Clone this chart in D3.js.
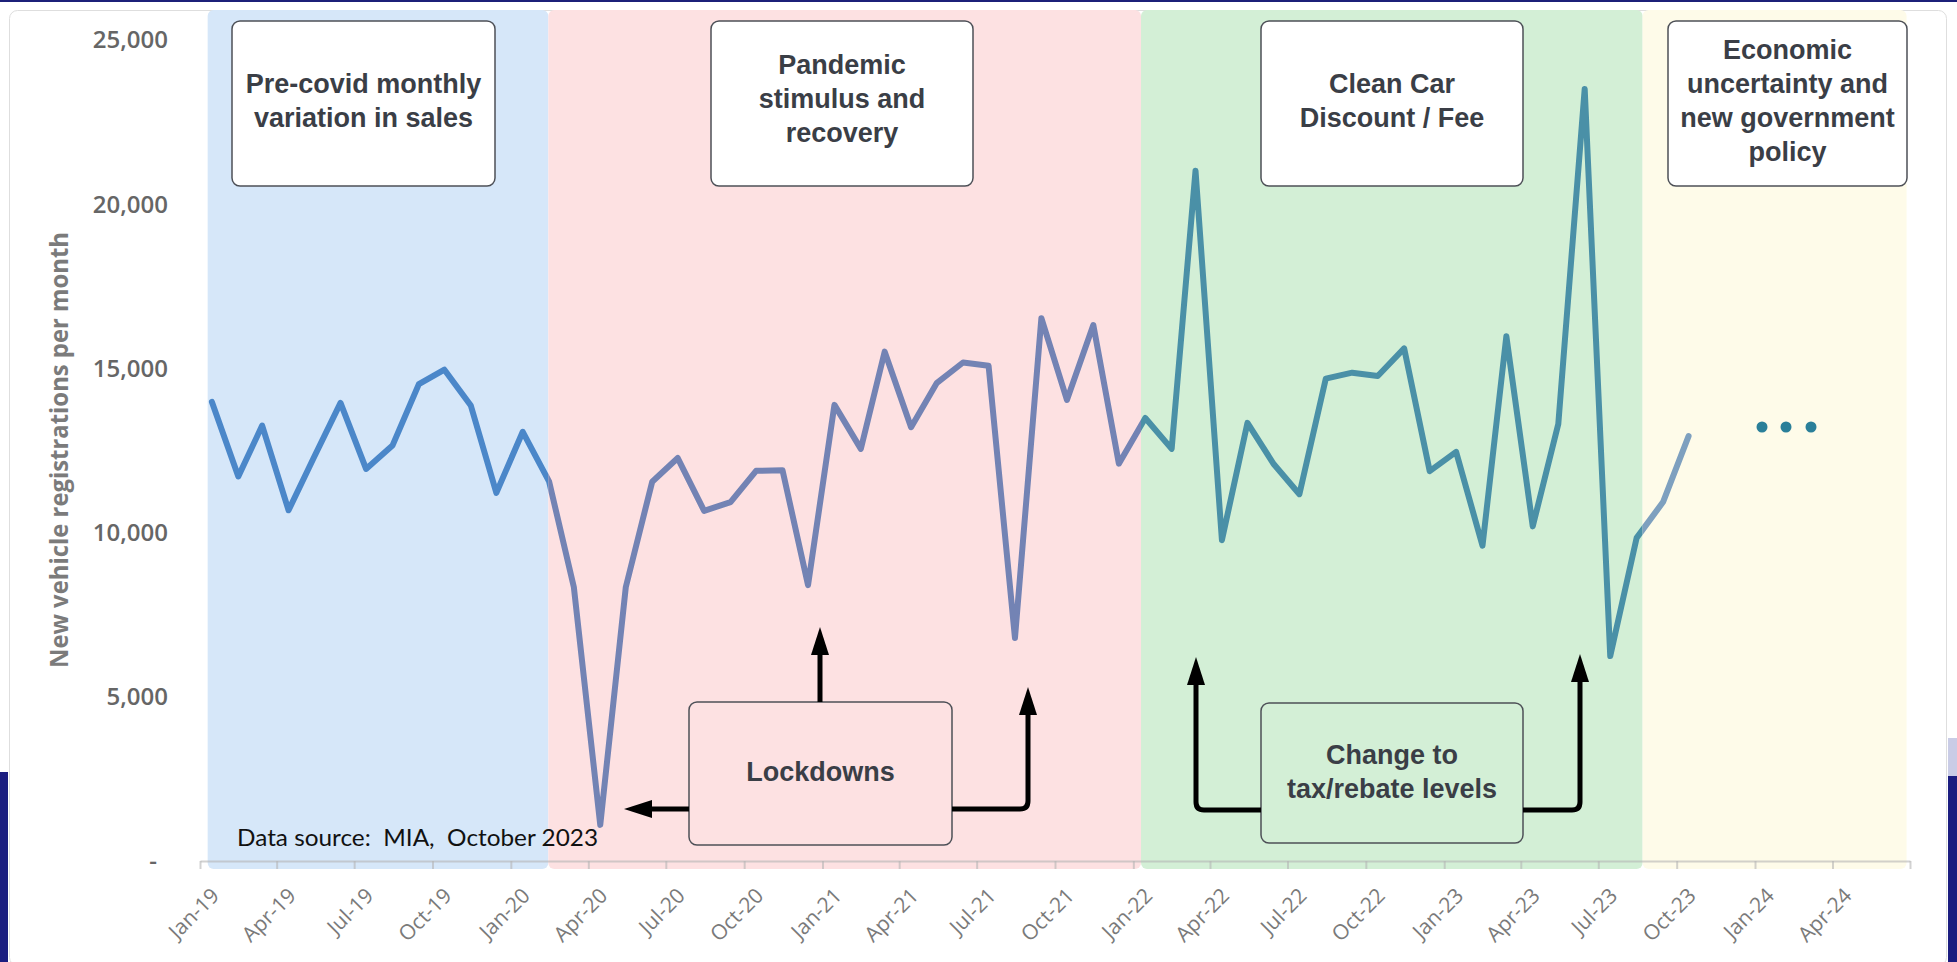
<!DOCTYPE html>
<meta charset="utf-8">
<style>

body {
  margin: 0;
  background: #fff;
}

text {
  font-family: "Liberation Sans", Arial, sans-serif;
}

.tick text {
  font-family: "Open Sans", sans-serif;
}

</style>
<body>
  <div class="chart"></div>
</body>

<script src="https://cdn.jsdelivr.net/npm/d3@7"></script>
<script>

// monthly new vehicle registrations (MIA)
var months = [
  "Jan-19", "Feb-19", "Mar-19", "Apr-19", "May-19", "Jun-19", "Jul-19", "Aug-19", "Sep-19", "Oct-19", "Nov-19", "Dec-19",
  "Jan-20", "Feb-20", "Mar-20", "Apr-20", "May-20", "Jun-20", "Jul-20", "Aug-20", "Sep-20", "Oct-20", "Nov-20", "Dec-20",
  "Jan-21", "Feb-21", "Mar-21", "Apr-21", "May-21", "Jun-21", "Jul-21", "Aug-21", "Sep-21", "Oct-21", "Nov-21", "Dec-21",
  "Jan-22", "Feb-22", "Mar-22", "Apr-22", "May-22", "Jun-22", "Jul-22", "Aug-22", "Sep-22", "Oct-22", "Nov-22", "Dec-22",
  "Jan-23", "Feb-23", "Mar-23", "Apr-23", "May-23", "Jun-23", "Jul-23", "Aug-23", "Sep-23", "Oct-23"
];

var registrations = [
  13980, 11710, 13260, 10680, 12300, 13950, 11940, 12650, 14520, 14960, 13870, 11210,
  13070, 11550, 8340, 1100, 8340, 11550, 12270, 10660, 10930, 11880, 11900, 8400,
  13890, 12550, 15510, 13210, 14550, 15180, 15080, 6790, 16530, 14040, 16320, 12100,
  13490, 12550, 21020, 9770, 13340, 12080, 11170, 14690, 14870, 14770, 15610, 11870,
  12460, 9600, 15980, 10190, 13310, 23510, 6240, 9840, 10930, 12940
];

var yTicks = [0, 5000, 10000, 15000, 20000, 25000];

var tickLabels = [
  "Jan-19", "Apr-19", "Jul-19", "Oct-19", "Jan-20", "Apr-20", "Jul-20", "Oct-20",
  "Jan-21", "Apr-21", "Jul-21", "Oct-21", "Jan-22", "Apr-22", "Jul-22", "Oct-22",
  "Jan-23", "Apr-23", "Jul-23", "Oct-23", "Jan-24", "Apr-24"
];
var axisEnd = "2024-07-01";

// shaded periods
var periodStart = ["2019-01-10", "2020-02-14", "2022-01-10", "2023-08-22"];
var periodEnd = ["2020-02-14", "2022-01-10", "2023-08-22", "2024-06-27"];
var periodFill = ["#d6e7f9", "#fde1e2", "#d3efd6", "#fefbe9"];
var periodLine = ["#4b87c9", "#7383b4", "#4a90a7", "#7ea0bf"];

var periodTitles = [
  ["Pre-covid monthly", "variation in sales"],
  ["Pandemic", "stimulus and", "recovery"],
  ["Clean Car", "Discount / Fee"],
  ["Economic", "uncertainty and", "new government", "policy"]
];

var lockdownTitle = ["Lockdowns"];
var policyTitle = ["Change to", "tax/rebate levels"];

// layout
var width = 1957,
    height = 962;

var svg = d3.select(".chart")
        .append("svg")
        .attr("width", width)
        .attr("height", height);

var parseMonth = d3.timeParse("%b-%y");
var parseDay = d3.timeParse("%Y-%m-%d");

var x = d3.scaleTime()
        .domain([parseMonth("Jan-19"), parseDay(axisEnd)])
        .range([200, 1910]);

var y = d3.scaleLinear()
        .domain([0, 25000])
        .range([861, 40]);

var data = months.map(function(m, i) {
    return { date: d3.timeDay.offset(parseMonth(m), 14), value: registrations[i] };
});

// frame of the screenshot
svg.append("rect")
        .attr("x", 0).attr("y", 0)
        .attr("width", width).attr("height", 2)
        .style("fill", "#1c2079");
svg.append("rect")
        .attr("x", 9.5).attr("y", 10.5)
        .attr("width", 1937).attr("height", 955)
        .attr("rx", 8)
        .style("fill", "#fff")
        .style("stroke", "#dedede");
svg.append("rect")
        .attr("x", 0).attr("y", 772)
        .attr("width", 8).attr("height", 190)
        .style("fill", "#1b1d80");
svg.append("rect")
        .attr("x", 1948).attr("y", 738)
        .attr("width", 9).attr("height", 38)
        .style("fill", "#c9cce6");
svg.append("rect")
        .attr("x", 1948).attr("y", 776)
        .attr("width", 9).attr("height", 186)
        .style("fill", "#1b1d80");

// period bands
svg.selectAll(".band")
        .data(periodStart)
        .enter()
        .append("rect")
        .attr("class", "band")
        .attr("x", function(d) { return x(parseDay(d)); })
        .attr("width", function(d, i) { return x(parseDay(periodEnd[i])) - x(parseDay(d)); })
        .attr("y", 10)
        .attr("height", 859)
        .attr("rx", 6)
        .style("fill", function(d, i) { return periodFill[i]; });

// x axis
var xAxis = d3.axisBottom(x)
        .tickValues(tickLabels.map(parseMonth).concat([parseDay(axisEnd)]))
        .tickFormat(function(d, i) { return i < tickLabels.length ? tickLabels[i] : ""; })
        .tickSize(8)
        .tickSizeOuter(0);

var gx = svg.append("g")
        .attr("transform", "translate(0," + y(0) + ")")
        .call(xAxis);

gx.select(".domain")
        .style("stroke", "#b4b4b4")
        .style("stroke-opacity", 0.6)
        .style("stroke-width", 2);
gx.selectAll(".tick line")
        .style("stroke", "#b4b4b4")
        .style("stroke-opacity", 0.6)
        .style("stroke-width", 2);
gx.selectAll(".tick text")
        .attr("y", 0)
        .attr("dy", 0)
        .attr("text-anchor", "end")
        .attr("transform", "translate(20,36) rotate(-45)")
        .style("font-size", "21px")
        .style("fill", "#7a7a7a");

// y axis labels only
var gy = svg.append("g");
gy.selectAll("text")
        .data(yTicks)
        .enter()
        .append("text")
        .attr("x", function(d) { return d === 0 ? 157 : 168; })
        .attr("y", function(d) { return y(d); })
        .attr("dy", "0.35em")
        .attr("text-anchor", "end")
        .style("font-family", "'Open Sans', sans-serif")
        .style("font-weight", 600)
        .style("font-size", "24px")
        .style("fill", "#666")
        .text(function(d) { return d === 0 ? "-" : d3.format(",")(d); });

svg.append("text")
        .attr("transform", "translate(68,450) rotate(-90)")
        .attr("text-anchor", "middle")
        .attr("textLength", 436)
        .attr("lengthAdjust", "spacingAndGlyphs")
        .style("font-family", "'Open Sans', sans-serif")
        .style("font-weight", 700)
        .style("font-size", "25px")
        .style("fill", "#7b7b7b")
        .text("New vehicle registrations per month");

// the line, coloured by period
var line = d3.line()
        .x(function(d) { return x(d.date); })
        .y(function(d) { return y(d.value); });

var defs = svg.append("defs");
periodStart.forEach(function(s, i) {
    var x0 = i === 0 ? 0 : x(parseDay(s));
    var x1 = i === periodStart.length - 1 ? width : x(parseDay(periodEnd[i]));
    defs.append("clipPath")
            .attr("id", "clip" + i)
            .append("rect")
            .attr("x", x0).attr("y", 0)
            .attr("width", x1 - x0).attr("height", height);
    svg.append("path")
            .datum(data)
            .attr("d", line)
            .attr("clip-path", "url(#clip" + i + ")")
            .style("fill", "none")
            .style("stroke", periodLine[i])
            .style("stroke-width", 6)
            .style("stroke-linejoin", "round")
            .style("stroke-linecap", "round");
});

// dots for "more to come"
svg.selectAll(".dot")
        .data([1762, 1786, 1811])
        .enter()
        .append("circle")
        .attr("cx", function(d) { return d; })
        .attr("cy", 427)
        .attr("r", 5.5)
        .style("fill", "#2a7f99");

// annotation boxes
function box(x0, y0, w, h, fill, lines, baseline) {
    svg.append("rect")
            .attr("x", x0).attr("y", y0)
            .attr("width", w).attr("height", h)
            .attr("rx", 8)
            .style("fill", fill)
            .style("stroke", "#4d5057")
            .style("stroke-width", 1.5);
    svg.append("text")
            .attr("text-anchor", "middle")
            .style("font-weight", "bold")
            .style("font-size", "27px")
            .style("fill", "#3a3e46")
            .selectAll("tspan")
            .data(lines)
            .enter()
            .append("tspan")
            .attr("x", x0 + w / 2)
            .attr("y", function(d, i) { return baseline + i * 34; })
            .text(function(d) { return d; });
}

box(232, 21, 263, 165, "#fff", periodTitles[0], 93);
box(711, 21, 262, 165, "#fff", periodTitles[1], 74);
box(1261, 21, 262, 165, "#fff", periodTitles[2], 93);
box(1668, 21, 239, 165, "#fff", periodTitles[3], 59);
box(689, 702, 263, 143, periodFill[1], lockdownTitle, 781);
box(1261, 703, 262, 140, periodFill[2], policyTitle, 764);

// arrows
function arrow(pathD, tip, dir) {
    svg.append("path")
            .attr("d", pathD)
            .style("fill", "none")
            .style("stroke", "#000")
            .style("stroke-width", 5);
    var tx = tip[0], ty = tip[1], pts;
    if (dir === "up") {
        pts = [[tx, ty], [tx - 9, ty + 28], [tx + 9, ty + 28]];
    } else {
        pts = [[tx, ty], [tx + 28, ty - 9], [tx + 28, ty + 9]];
    }
    svg.append("polygon")
            .attr("points", pts.map(function(p) { return p.join(","); }).join(" "))
            .style("fill", "#000");
}

arrow("M689,809H648", [624, 809], "left");
arrow("M820,702V650", [820, 627], "up");
arrow("M952,809H1020Q1028,809 1028,801V710", [1028, 687], "up");
arrow("M1261,810H1204Q1196,810 1196,802V680", [1196, 657], "up");
arrow("M1523,810H1572Q1580,810 1580,802V677", [1580, 654], "up");

// source note
svg.append("text")
        .attr("x", 237)
        .attr("y", 846)
        .attr("textLength", 361)
        .attr("lengthAdjust", "spacingAndGlyphs")
        .style("font-family", "Lato, sans-serif")
        .style("font-size", "23px")
        .style("fill", "#111")
        .style("white-space", "pre")
        .text("Data source:  MIA,  October 2023");

</script>
